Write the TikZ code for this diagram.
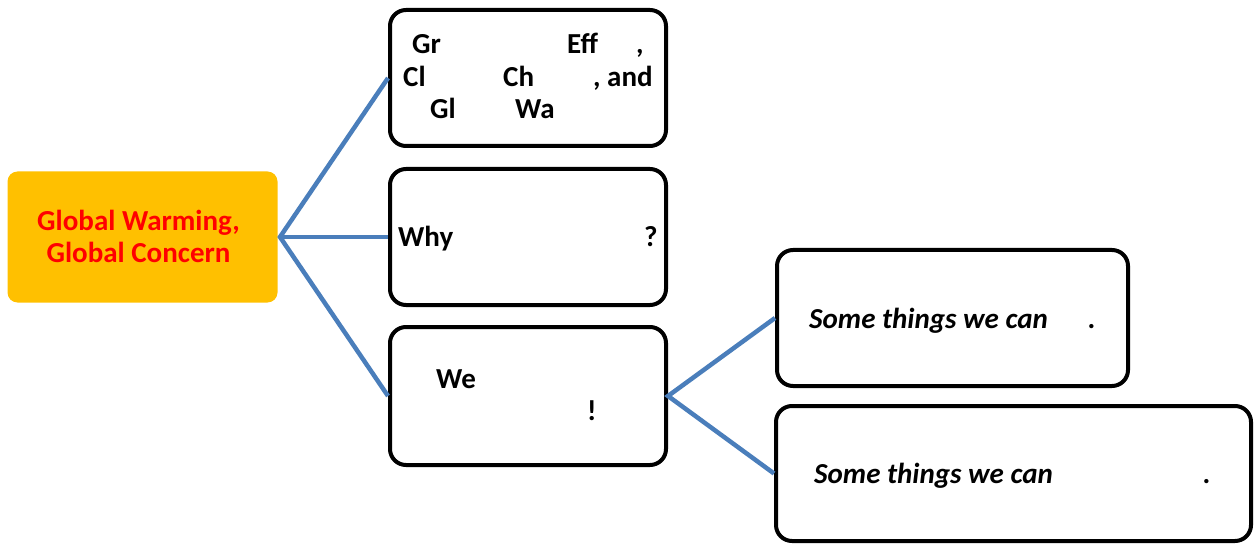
\documentclass[tikz,border=0pt]{standalone}
\usepackage{fontspec}
\setmainfont{Carlito}
\definecolor{hubfill}{RGB}{255,192,0}
\definecolor{linkblue}{RGB}{74,126,187}
\definecolor{titlered}{RGB}{255,0,0}
\tikzset{
  box/.style={draw=black, line width=4pt, rounded corners=16pt, inner sep=0pt},
  hubbox/.style={fill=hubfill, rounded corners=10pt, inner sep=0pt},
  link/.style={draw=linkblue, line width=4.5pt},
  txt/.style={anchor=base west, inner sep=0pt, font=\fontsize{29}{32}\selectfont\bfseries},
  itxt/.style={anchor=base west, inner sep=0pt, font=\fontsize{29}{32}\selectfont\bfseries\itshape},
  title/.style={align=center, inner sep=0pt, text=titlered, font=\fontsize{29}{32}\selectfont\bfseries}
}
\begin{document}
\begin{tikzpicture}[x=1pt,y=-1pt]
\useasboundingbox (0,0) rectangle (1255,545);
% boxes
\node[hubbox, minimum width=270pt, minimum height=131pt] (center) at (142.5,237) {};
\node[box, minimum width=276pt, minimum height=136pt] (b1) at (528,78) {};
\node[box, minimum width=276pt, minimum height=136pt] (b2) at (528,237) {};
\node[box, minimum width=276pt, minimum height=138pt] (b3) at (528,396) {};
\node[box, minimum width=351pt, minimum height=136pt] (b4) at (952.5,318) {};
\node[box, minimum width=475pt, minimum height=135pt] (b5) at (1013.5,473.5) {};
% hub
\coordinate (hub) at (280,237);
\draw[link] (b1.west) -- (hub) -- (b3.west);
\draw[link] (hub) -- (b2.west);
\draw[link] (b4.west) -- (b3.east) -- (b5.west);
% title
\node[title] (t0) at (138.5,236) {Global Warming,\\Global Concern};
% box 1 text
\node[txt] (t1a) at (412,54) {Gr};
\node[txt] (t1b) at (567,54) {Eff};
\node[txt] (t1c) at (636,54) {,};
\node[txt] (t1d) at (403,87) {Cl};
\node[txt] (t1e) at (503,87) {Ch};
\node[txt] (t1f) at (593,87) {, and};
\node[txt] (t1g) at (430,119) {Gl};
\node[txt] (t1h) at (515,119) {Wa};
% box 2 text
\node[txt] (t2a) at (398,247) {Why};
\node[txt] (t2b) at (644,247) {?};
% box 3 text
\node[txt] (t3a) at (436,388) {We};
\node[txt] (t3b) at (587,420) {!};
% box 4, 5 text
\node[itxt] (t4a) at (809,328) {Some things we can};
\node[itxt] (t4b) at (1088,328) {.};
\node[itxt] (t5a) at (814,483) {Some things we can};
\node[itxt] (t5b) at (1203,483) {.};
\end{tikzpicture}
\end{document}
